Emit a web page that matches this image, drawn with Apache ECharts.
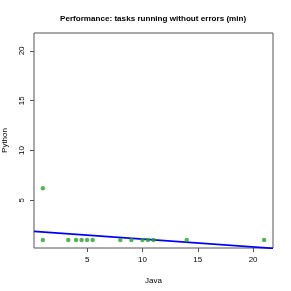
<!DOCTYPE html>
<html><head><meta charset="utf-8">
<script src="https://cdn.jsdelivr.net/npm/echarts@6/dist/echarts.min.js"></script>
<style>html,body{margin:0;padding:0;background:#fff}#c{width:291px;height:291px}</style>
</head><body><div id="c"></div>
<script>
var javaX = [1, 1, 3.3, 4, 4.5, 5, 5.5, 8, 9, 10, 10.5, 11, 14, 21];
var pythonY = [6.2, 1, 1, 1, 1, 1, 1, 1, 1, 1, 1, 1, 1, 1];
var fitLineX = [0.2, 21.8];
var fitLineY = [1.88, 0.17];
var xTicks = [5, 10, 15, 20];
var yTicks = [5, 10, 15, 20];

var pts = javaX.map(function(x, i){ return [x, pythonY[i]]; });
var fit = fitLineX.map(function(x, i){ return [x, fitLineY[i]]; });
var font = 'Liberation Sans, Arial, sans-serif';
var chart = echarts.init(document.getElementById('c'), null, {renderer:'canvas'});
chart.setOption({
  animation: false,
  title: {text: 'Performance: tasks running without errors (min)', left: 55, top: 10,
    textStyle: {fontFamily: font, fontSize: 8.1, fontWeight: 'bold', color: '#000'}},
  grid: {left: 34, right: 18, top: 33, bottom: 43, outerBoundsMode: 'none', containLabel: false,
    show: true, borderColor: '#555', borderWidth: 1, backgroundColor: 'transparent'},
  xAxis: {type: 'value', min: 0.2, max: 21.8, name: 'Java', nameLocation: 'middle', nameGap: 29,
    nameTextStyle: {fontFamily: font, fontSize: 8, color: '#000'},
    axisLine: {show: false}, splitLine: {show: false},
    axisTick: {show: true, length: 4, customValues: xTicks, lineStyle: {color: '#555'}},
    axisLabel: {customValues: xTicks, margin: 8, fontFamily: font, fontSize: 8, color: '#000'}},
  yAxis: {type: 'value', min: 0.2, max: 21.8, name: 'Python', nameLocation: 'middle', nameGap: 25,
    nameTextStyle: {fontFamily: font, fontSize: 8, color: '#000'},
    axisLine: {show: false}, splitLine: {show: false},
    axisTick: {show: true, length: 4, customValues: yTicks, lineStyle: {color: '#555'}},
    axisLabel: {customValues: yTicks, rotate: 90, margin: 8, fontFamily: font, fontSize: 8, color: '#000'}},
  series: [
    {type: 'line', data: fit, showSymbol: false, symbol: 'none', clip: true,
      lineStyle: {color: '#0000ff', width: 1.8}, z: 3},
    {type: 'scatter', data: pts, symbol: 'circle', symbolSize: 4.5,
      itemStyle: {color: '#2ea02e'}, z: 4}
  ]
});
</script></body></html>
